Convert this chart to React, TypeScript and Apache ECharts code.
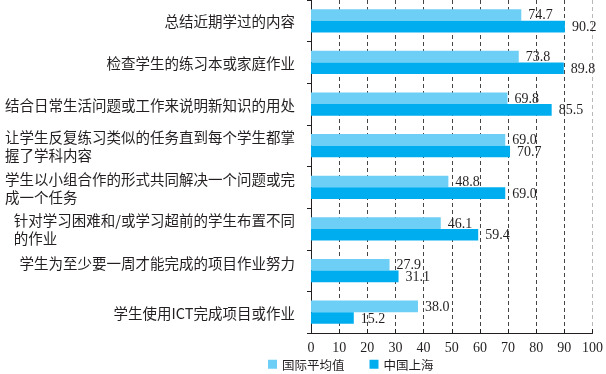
import React, { useEffect, useRef } from "react";
import * as echarts from "echarts";

const categories = [
  "总结近期学过的内容",
  "检查学生的练习本或家庭作业",
  "结合日常生活问题或工作来说明新知识的用处",
  "让学生反复练习类似的任务直到每个学生都掌\n握了学科内容",
  "学生以小组合作的形式共同解决一个问题或完\n成一个任务",
  "针对学习困难和/或学习超前的学生布置不同\n的作业",
  "学生为至少要一周才能完成的项目作业努力",
  "学生使用ICT完成项目或作业",
];
const intlAvg = [74.7, 73.8, 69.8, 69.0, 48.8, 46.1, 27.9, 38.0];
const shanghai = [90.2, 89.8, 85.5, 70.7, 69.0, 59.4, 31.1, 15.2];
const seriesNames = ["国际平均值", "中国上海"];

const CJK = '"Noto Sans CJK SC", sans-serif';
const SERIF = '"Liberation Serif", "Times New Roman", serif';

export default function App() {
  const ref = useRef<HTMLDivElement>(null);
  useEffect(() => {
    if (!ref.current) return;
    const chart = echarts.init(ref.current, null, { renderer: "svg" });
    const splitColors = Array.from({ length: 11 }, (_, i) => (i === 10 ? "#b8b8b8" : "#444"));
    chart.setOption({
      animation: false,
      grid: { left: 311, right: 13, top: 0, bottom: 41, containLabel: false },
      legend: {
        data: seriesNames,
        left: 268,
        top: 358,
        padding: 0,
        icon: "rect",
        itemWidth: 9,
        itemHeight: 9,
        itemGap: 25,
        textStyle: { fontFamily: CJK, fontSize: 12.5, color: "#231f20", padding: [0, 0, 0, 0] },
      },
      xAxis: {
        type: "value",
        min: 0,
        max: 100,
        interval: 10,
        axisLine: { show: true, lineStyle: { color: "#231f20", width: 1 } },
        axisTick: { show: true, inside: true, length: 4, lineStyle: { color: "#231f20" } },
        axisLabel: { margin: 7, fontFamily: SERIF, fontSize: 14, color: "#231f20" },
        splitLine: { show: true, lineStyle: { color: splitColors, type: [4, 3], width: 1 } },
      },
      yAxis: {
        type: "category",
        inverse: true,
        data: categories.map((c, i) =>
          i === 6 ? { value: c, textStyle: { padding: [0, 0, 17, 0] } } : c
        ),
        axisLine: { show: true, lineStyle: { color: "#231f20", width: 1 } },
        axisTick: { show: true, length: 4, lineStyle: { color: "#231f20" } },
        axisLabel: {
          margin: 16,
          color: "#231f20",
          fontFamily: CJK,
          fontSize: 14.5,
          formatter: (v: string) => v.split("\n").map((l) => `{l|${l}}`).join("\n"),
          rich: {
            l: { align: "left", fontFamily: CJK, fontSize: 14.5, lineHeight: 18, color: "#231f20" },
          },
        },
      },
      series: [
        {
          name: seriesNames[0],
          type: "bar",
          data: intlAvg,
          barGap: "0%",
          barCategoryGap: "44%",
          itemStyle: { color: "#6dcff6" },
          label: {
            show: true,
            position: "right",
            distance: 7,
            formatter: (p: any) => p.value.toFixed(1),
            fontFamily: SERIF,
            fontSize: 14,
            color: "#231f20",
          },
        },
        {
          name: seriesNames[1],
          type: "bar",
          data: shanghai,
          barGap: "0%",
          barCategoryGap: "44%",
          itemStyle: { color: "#00aeef" },
          label: {
            show: true,
            position: "right",
            distance: 7,
            formatter: (p: any) => p.value.toFixed(1),
            fontFamily: SERIF,
            fontSize: 14,
            color: "#231f20",
          },
        },
      ],
    });
    return () => chart.dispose();
  }, []);
  return <div ref={ref} style={{ width: 606, height: 374, position: "fixed", left: 0, top: 0 }} />;
}
